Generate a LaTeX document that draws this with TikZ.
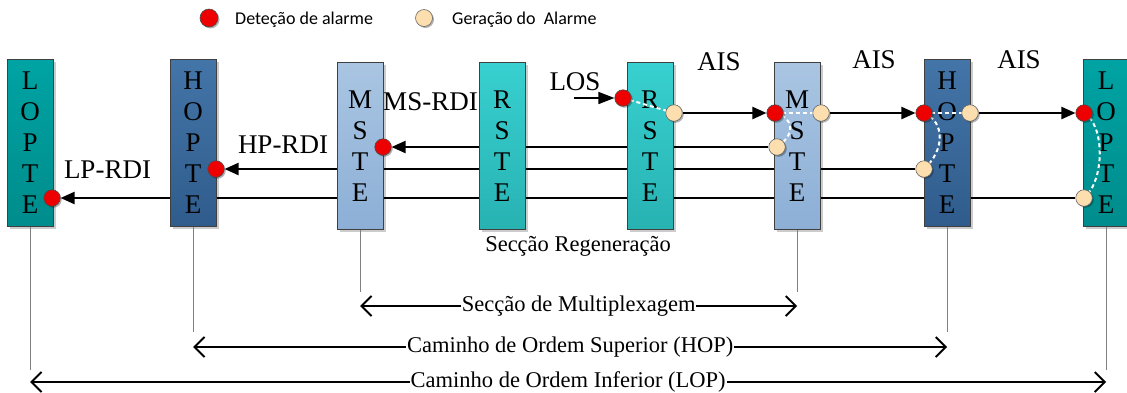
\documentclass[tikz,border=0pt]{standalone}
\usepackage{fontspec}
\setmainfont{Liberation Serif}
\newfontfamily\legendfont{Carlito}
\usetikzlibrary{arrows.meta,shadows}
\pgfdeclarelayer{bg}
\pgfdeclarelayer{mid}
\pgfdeclarelayer{fg}
\pgfsetlayers{bg,main,mid,fg}

\definecolor{lopTop}{HTML}{00A3A3}
\definecolor{lopBot}{HTML}{008C8C}
\definecolor{hopTop}{HTML}{4475A8}
\definecolor{hopBot}{HTML}{2F5C8C}
\definecolor{msTop}{HTML}{A9C5E2}
\definecolor{msBot}{HTML}{8DAFD6}
\definecolor{rsTop}{HTML}{38D0D0}
\definecolor{rsBot}{HTML}{28B2B2}
\definecolor{alarmRed}{HTML}{EE0000}
\definecolor{genBeige}{HTML}{FDDFAF}

\tikzset{
  unitbox/.style={draw=black!75, line width=0.8pt, minimum width=45.5pt,
    minimum height=167pt, inner sep=0pt, anchor=north west, align=center,
    font=\fontsize{27}{31}\selectfont,
    drop shadow={shadow xshift=3pt, shadow yshift=-3pt, opacity=0.2, fill=black}},
  lopbox/.style={unitbox, top color=lopTop, bottom color=lopBot},
  hopbox/.style={unitbox, top color=hopTop, bottom color=hopBot},
  msbox/.style={unitbox, top color=msTop, bottom color=msBot},
  rsbox/.style={unitbox, top color=rsTop, bottom color=rsBot},
  det/.style={circle, draw=black!70, fill=alarmRed, line width=0.6pt,
    minimum size=16.5pt, inner sep=0pt,
    drop shadow={shadow xshift=1.5pt, shadow yshift=-1.5pt, opacity=0.3, fill=black}},
  gen/.style={circle, draw=black!60, fill=genBeige, line width=0.6pt,
    minimum size=16.5pt, inner sep=0pt,
    drop shadow={shadow xshift=1.5pt, shadow yshift=-1.5pt, opacity=0.3, fill=black}},
  sig/.style={line width=2.2pt, draw=black, -{Triangle[length=14pt,width=12pt]}},
  alarmpath/.style={draw=white, line width=2pt, dash pattern=on 4pt off 3pt},
  vline/.style={draw=gray, line width=0.8pt},
  spanarrow/.style={line width=2pt,
    {Straight Barb[length=10pt,width=20pt]}-{Straight Barb[length=10pt,width=20pt]}},
  spanlabel/.style={fill=white, inner sep=1pt, font=\fontsize{22.5}{24}\selectfont},
  biglabel/.style={inner sep=0pt, anchor=base, font=\fontsize{27}{30}\selectfont},
  legtext/.style={inner sep=0pt, anchor=base west, font=\legendfont\fontsize{18}{20}\selectfont},
}

\begin{document}
\begin{tikzpicture}[x=1pt,y=-1pt]
\useasboundingbox (0,0) rectangle (1127,392);

% legend
\node[det, minimum size=18pt] (legDet) at (209,18) {};
\node[legtext] (legDetTxt) at (235,24) {Deteção de alarme};
\node[gen, minimum size=17pt] (legGen) at (424,18) {};
\node[legtext] (legGenTxt) at (452,24) {Geração do\ \ Alarme};

% boxes
\node[lopbox] (LL) at (7,59) {L\\O\\P\\T\\E};
\node[hopbox] (HL) at (170,59) {H\\O\\P\\T\\E};
\node[msbox] (ML) at (337,62) {M\\S\\T\\E};
\node[rsbox] (R1) at (479,62) {R\\S\\T\\E};
\node[rsbox] (R2) at (627,62) {R\\S\\T\\E};
\node[msbox] (MR) at (774,62) {M\\S\\T\\E};
\node[hopbox] (HR) at (924,59) {H\\O\\P\\T\\E};
\node[lopbox] (LR) at (1083,59) {L\\O\\P\\T\\E};

% labels
\node[biglabel] (lpRdi) at (107.5,178) {LP-RDI};
\node[biglabel] (hpRdi) at (283,153) {HP-RDI};
\node[biglabel] (msRdi) at (430.5,110) {MS-RDI};
\node[biglabel] (los) at (575,90) {LOS};
\node[biglabel] (ais1) at (719,70) {AIS};
\node[biglabel] (ais2) at (874,68) {AIS};
\node[biglabel] (ais3) at (1019,68) {AIS};
\node[inner sep=0pt, font=\fontsize{22.5}{24}\selectfont] (regen) at (578,246) {Secção Regeneração};

% circles
\begin{pgfonlayer}{fg}
\node[det] (rLL) at (52,198) {};
\node[det] (rHL) at (216,169) {};
\node[det] (rML) at (383,147) {};
\node[det] (rR2) at (623,98) {};
\node[gen] (gR2) at (674,113) {};
\node[det] (rMR) at (775,113) {};
\node[gen] (gMR1) at (821,113) {};
\node[gen] (gMR2) at (777,147) {};
\node[det] (rHR) at (924,113) {};
\node[gen] (gHR1) at (970,113) {};
\node[gen] (gHR2) at (924,169) {};
\node[det] (rLR) at (1084,113) {};
\node[gen] (gLR2) at (1084,198) {};
\end{pgfonlayer}

% signal lines
\begin{pgfonlayer}{bg}
\draw[sig] (gR2) -- (rMR);
\draw[sig] (gMR1) -- (rHR);
\draw[sig] (gHR1) -- (rLR);
\draw[sig] (gMR2) -- (rML);
\draw[sig] (gHR2) -- (rHL);
\draw[sig] (gLR2) -- (rLL);
\coordinate (losStart) at (574,98);
\draw[line width=1.4pt, -{Triangle[length=16pt,width=12pt]}] (losStart) -- (rR2);
\end{pgfonlayer}

% alarm propagation paths
\begin{pgfonlayer}{mid}
\draw[alarmpath] (rR2.center) -- (gR2.center);
\draw[alarmpath] (rMR.center) -- (gMR1.center);
\draw[alarmpath] (rMR.center) .. controls (795,118) and (795,135) .. (gMR2.center);
\draw[alarmpath] (rHR.center) -- (gHR1.center);
\draw[alarmpath] (rHR.center) .. controls (945,122) and (945,150) .. (gHR2.center);
\draw[alarmpath] (rLR.center) .. controls (1105,125) and (1105,180) .. (gLR2.center);
\end{pgfonlayer}

% extent markers
\coordinate (msEnd) at (0,292);
\coordinate (msY) at (0,306);
\coordinate (hopEnd) at (0,332);
\coordinate (hopY) at (0,347);
\coordinate (lopEnd) at (0,370);
\coordinate (lopY) at (0,382);

\draw[vline] (ML.south) -- (ML.south |- msEnd);
\draw[vline] (MR.south) -- (MR.south |- msEnd);
\draw[vline] (HL.south) -- (HL.south |- hopEnd);
\draw[vline] (HR.south) -- (HR.south |- hopEnd);
\draw[vline] (LL.south) -- (LL.south |- lopEnd);
\draw[vline] (LR.south) -- (LR.south |- lopEnd);

\draw[spanarrow] (ML.south |- msY) -- node[spanlabel] (msTxt) {Secção de Multiplexagem} (MR.south |- msY);
\draw[spanarrow] (HL.south |- hopY) -- node[spanlabel] (hopTxt) {Caminho de Ordem Superior (HOP)} (HR.south |- hopY);
\draw[spanarrow] (LL.south |- lopY) -- node[spanlabel] (lopTxt) {Caminho de Ordem Inferior (LOP)} (LR.south |- lopY);
\end{tikzpicture}
\end{document}
